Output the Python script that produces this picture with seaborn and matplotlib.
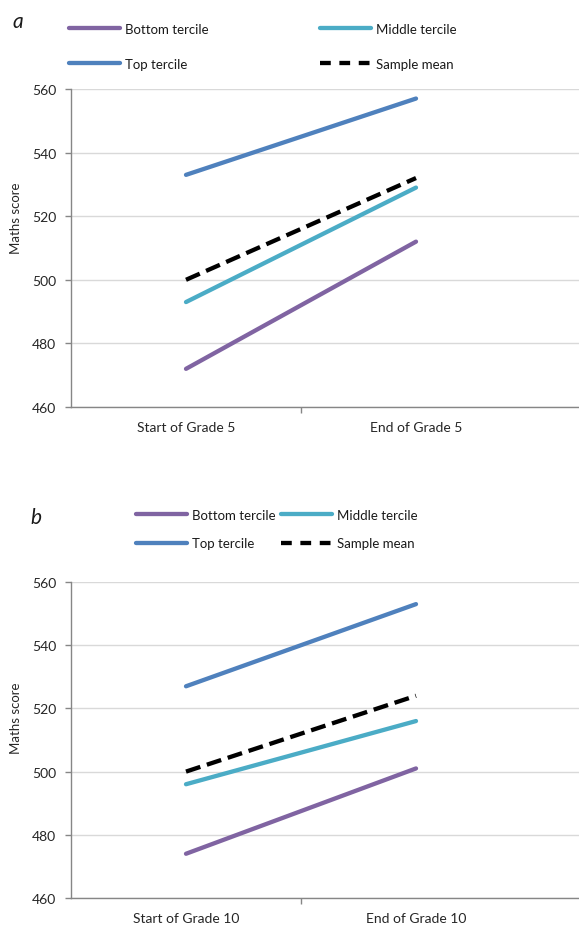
"""
Maths score by attainment tercile, start vs end of grade (panels a and b)
"""

import pandas as pd
import matplotlib
matplotlib.use('Agg')
import matplotlib.pyplot as plt
from matplotlib.lines import Line2D
from matplotlib.ticker import FixedLocator, MultipleLocator
import seaborn as sns

# Veri (okunan değerler)
groups = ['Bottom tercile', 'Middle tercile', 'Top tercile', 'Sample mean']

times_a = ['Start of Grade 5', 'End of Grade 5']
bottom_a = [472, 512]
middle_a = [493, 529]
top_a = [533, 557]
mean_a = [500, 532]

times_b = ['Start of Grade 10', 'End of Grade 10']
bottom_b = [474, 501]
middle_b = [496, 516]
top_b = [527, 553]
mean_b = [500, 524]

palette = {'Bottom tercile': '#8064A2', 'Middle tercile': '#4BACC6',
           'Top tercile': '#4F81BD', 'Sample mean': '#000000'}
dashes = {'Bottom tercile': '', 'Middle tercile': '', 'Top tercile': '',
          'Sample mean': (3.5, 1.6)}

sns.set_theme(style='white')
plt.rcParams['font.family'] = ['Lato', 'DejaVu Sans']
plt.rcParams['text.color'] = '#1a1a1a'

LW = 3.1
GRID = '#D9D9D9'
SPINE = '#868686'


def long_frame(times, bottom, middle, top, mean):
    rows = []
    for g, vals in zip(groups, [bottom, middle, top, mean]):
        for t, v in zip(times, vals):
            rows.append({'time': t, 'score': v, 'group': g})
    return pd.DataFrame(rows)


def draw_panel(ax, df, times):
    sns.lineplot(data=df, x='time', y='score', hue='group', style='group',
                 hue_order=groups, style_order=groups, palette=palette,
                 dashes=dashes, linewidth=LW, legend=False, ax=ax,
                 sort=False)
    ax.set_ylim(460, 560)
    ax.yaxis.set_major_locator(MultipleLocator(20))
    ax.set_xlim(-0.5, -0.5 + 508 / 230)
    ax.xaxis.set_major_locator(FixedLocator([0, 1]))
    ax.set_xticklabels(times)
    # tick mark only between the two categories
    ax.xaxis.set_minor_locator(FixedLocator([0.5]))
    ax.tick_params(axis='x', which='major', length=0, pad=10, labelsize=10)
    ax.tick_params(axis='x', which='minor', length=4.5, width=1, color=SPINE,
                   direction='out', bottom=True)
    ax.tick_params(axis='y', length=4.5, width=1, color=SPINE, pad=6,
                   labelsize=10, left=True)
    ax.grid(axis='y', color=GRID, linewidth=1)
    ax.grid(axis='x', visible=False)
    for s in ['top', 'right']:
        ax.spines[s].set_visible(False)
    for s in ['left', 'bottom']:
        ax.spines[s].set_color(SPINE)
        ax.spines[s].set_linewidth(1)
    ax.set_xlabel('')
    ax.set_ylabel('Maths score', fontsize=9.5)


def legend_handles():
    order = ['Bottom tercile', 'Top tercile', 'Middle tercile', 'Sample mean']
    hs = []
    for g in order:
        ls = (0, (2.5, 2.0)) if g == 'Sample mean' else '-'
        hs.append(Line2D([0], [0], color=palette[g], lw=LW, linestyle=ls,
                         solid_capstyle='round'))
    return hs, order


fig = plt.figure(figsize=(5.79, 9.28), dpi=100)
ax_a = fig.add_axes([71 / 579, 1 - 408 / 928, 508 / 579, 318 / 928])
ax_b = fig.add_axes([71 / 579, 1 - 899 / 928, 508 / 579, 316 / 928])

draw_panel(ax_a, long_frame(times_a, bottom_a, middle_a, top_a, mean_a), times_a)
draw_panel(ax_b, long_frame(times_b, bottom_b, middle_b, top_b, mean_b), times_b)

ax_a.yaxis.set_label_coords(-0.097, 0.597)
ax_b.yaxis.set_label_coords(-0.097, 0.573)

hs, labels = legend_handles()
fig.legend(hs, labels, ncol=2, loc='upper left', frameon=False,
           bbox_to_anchor=(69 / 579, 1 - 24 / 928), borderpad=0,
           borderaxespad=0, handlelength=3.9, handletextpad=0.35,
           columnspacing=8.4, labelspacing=1.75, fontsize=9.5)
fig.legend(hs, labels, ncol=2, loc='upper left', frameon=False,
           bbox_to_anchor=(136 / 579, 1 - 510 / 928), borderpad=0,
           borderaxespad=0, handlelength=3.9, handletextpad=0.35,
           columnspacing=0.4, labelspacing=1.25, fontsize=9.5)

fig.text(18 / 579, 1 - 22 / 928, 'a', fontsize=15, style='italic',
         ha='center', va='center')
fig.text(36 / 579, 1 - 518 / 928, 'b', fontsize=15, style='italic',
         ha='center', va='center')

fig.savefig('out.png', dpi=100)
